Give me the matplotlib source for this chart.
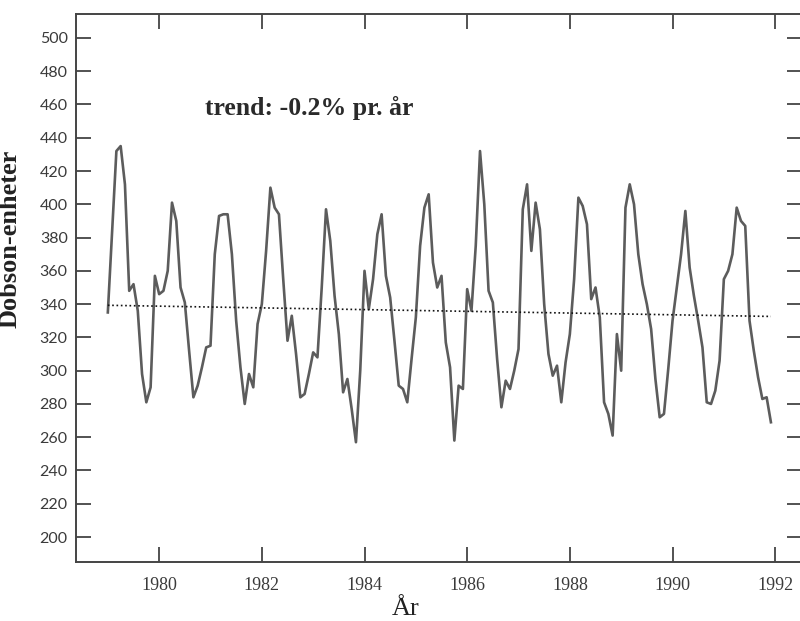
import numpy as np
import matplotlib.pyplot as plt

# monthly mean ozone (Dobson units), Jan..Dec
# None = no value for that month
oz_1979 = [335, None, 432, 435, 412, 348, 352, 336, 298, 281, 290, 357]
oz_1980 = [346, 348, 360, 401, 390, 350, 341, 312, 284, 291, 302, 314]
oz_1981 = [315, 370, 393, 394, 394, 370, 330, 302, 280, 298, 290, 328]
oz_1982 = [340, 372, 410, 398, 394, 355, 318, 333, 310, 284, 286, 298]
oz_1983 = [311, 308, 350, 397, 378, 345, 322, 287, 295, 277, 257, 300]
oz_1984 = [360, 337, 355, 382, 394, 357, 344, 318, 291, 289, 281, 307]
oz_1985 = [332, 375, 398, 406, 365, 350, 357, 317, 302, 258, 291, 289]
oz_1986 = [349, 336, 375, 432, 400, 348, 341, 307, 278, 294, 289, 300]
oz_1987 = [313, 397, 412, 372, 401, 385, 340, 310, 297, 303, 281, 305]
oz_1988 = [322, 355, 404, 399, 388, 343, 350, 332, 281, 274, 261, 322]
oz_1989 = [300, 398, 412, 400, 370, 352, 340, 325, 295, 272, 274, 301]
oz_1990 = [330, 350, 370, 396, 362, 345, 330, 314, 281, 280, 288, 306]
oz_1991 = [355, 360, 370, 398, 390, 387, 330, 312, 296, 283, 284, 269]

years = list(range(1979, 1992))
# linear trend line end values
trend_start = 339.3
trend_end = 332.6

xticks = [1980, 1982, 1984, 1986, 1988, 1990, 1992]
yticks = list(range(200, 501, 20))


def build_series():
    all_years = [oz_1979, oz_1980, oz_1981, oz_1982, oz_1983, oz_1984, oz_1985,
                 oz_1986, oz_1987, oz_1988, oz_1989, oz_1990, oz_1991]
    t = []
    v = []
    for yr, vals in zip(years, all_years):
        for m, val in enumerate(vals):
            if val is None:
                continue
            t.append(yr + m / 12.0)
            v.append(val)
    return np.array(t), np.array(v)


def main():
    t, v = build_series()

    fig = plt.figure(figsize=(8.0, 6.21), dpi=100)
    ax = fig.add_axes([0.095, 0.095, 0.908, 0.8825])

    ax.plot(t, v, color='#5c5c5c', lw=1.9)
    ax.plot([t[0], t[-1]], [trend_start, trend_end], color='#111111', lw=1.2,
            linestyle=(0, (1, 1.6)))

    ax.set_xlim(1978.38, 1992.53)
    ax.set_ylim(185, 514.4)
    ax.set_xticks(xticks)
    ax.set_yticks(yticks)

    for s in ax.spines.values():
        s.set_linewidth(1.4)
        s.set_color('#444444')

    ax.tick_params(axis='both', direction='in', length=11, width=1.3, color='#444444',
                   top=True, right=True)
    ax.tick_params(axis='x', pad=11)
    ax.tick_params(axis='y', pad=6)
    for lab in ax.get_xticklabels():
        lab.set_fontfamily('Liberation Serif')
        lab.set_fontsize(13)
        lab.set_color('#3a3a3a')
    for lab in ax.get_yticklabels():
        lab.set_fontfamily('Lato')
        lab.set_fontsize(11.5)
        lab.set_color('#3a3a3a')

    ax.set_ylabel('Dobson-enheter', fontfamily='Liberation Serif', fontweight='bold',
                  fontsize=19, color='#222222')
    ax.yaxis.set_label_coords(-0.075, 0.59)
    ax.set_xlabel('År', fontfamily='Liberation Serif', fontsize=19, color='#222222')
    ax.xaxis.set_label_coords(0.454, -0.085)
    ax.xaxis.label.set_verticalalignment('center')

    ax.text(1980.89, 458, 'trend: -0.2% pr. år', fontfamily='Liberation Serif',
            fontweight='bold', fontsize=18.5, color='#2a2a2a', va='center', ha='left')

    fig.savefig('out.png', dpi=100)


if __name__ == "__main__":
    main()
